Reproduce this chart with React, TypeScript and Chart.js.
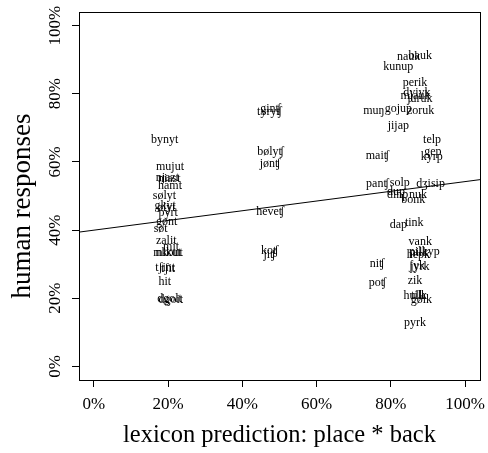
import React, { useEffect, useRef } from "react";
import { Chart, registerables } from "chart.js";

Chart.register(...registerables);

const FONT = "'Liberation Serif', 'DejaVu Serif', serif";

const words = [
  "bynyt", "mujut", "njazt", "niast", "hamt", "sølyt", "gkyt", "ølyt", "pyrt", "gønt", "søt",
  "zalit", "mit", "mikut", "nkout", "tʃint", "tʃit", "hit", "dgolt", "dgoit",
  "ginʧ", "tyryʧ", "bølyʧ", "jønʧ", "heveʧ", "koʧ", "jiʧ",
  "nauk", "bauk", "kunup", "perik", "dyiyk", "mjauk", "juruk", "muŋ", "gojup", "zoruk", "jijap",
  "telp", "gep", "kyrp", "maiʧ", "panʧ", "solp", "dʒisip", "dup", "dinp", "nuk", "bonk",
  "dap", "tink", "vank", "pilkyp", "hepk", "nilk", "ʃyk", "jyrk", "niʧ", "zik", "poʧ",
  "hulk", "tilk", "gølk", "pyrk",
];

const lexiconPrediction = [
  19.1, 20.5, 19.8, 20.3, 20.5, 19.0, 19.2, 19.5, 20.0, 19.6, 18.0,
  19.5, 20.8, 19.8, 20.3, 19.2, 20.0, 19.1, 20.4, 20.7,
  47.6, 47.3, 47.6, 47.5, 47.5, 47.4, 47.3,
  84.8, 87.9, 82.0, 86.5, 87.0, 86.6, 87.8, 75.4, 82.0, 88.0, 82.0,
  91.1, 91.3, 91.0, 76.4, 76.4, 82.4, 90.7, 81.4, 81.8, 87.3, 86.0,
  82.0, 86.3, 87.9, 89.0, 87.4, 87.6, 87.0, 87.8, 76.3, 86.5, 76.4,
  86.3, 87.6, 88.2, 86.5,
];

const humanResponses = [
  66.6, 58.7, 55.4, 55.0, 53.0, 50.0, 47.0, 46.6, 45.0, 42.3, 40.3,
  36.8, 35.2, 33.3, 33.3, 28.8, 28.6, 24.9, 19.8, 19.6,
  75.7, 74.6, 62.9, 59.5, 45.4, 34.0, 32.6,
  90.7, 91.0, 88.0, 83.1, 80.3, 79.3, 78.6, 74.9, 75.6, 74.9, 70.7,
  66.6, 63.0, 61.6, 61.7, 53.7, 54.0, 53.5, 51.3, 50.3, 50.4, 48.8,
  41.5, 42.1, 36.6, 33.6, 32.6, 33.2, 29.6, 29.2, 30.0, 25.2, 24.4,
  20.8, 20.6, 19.6, 12.9,
];

const fitX = [-4, 104];
const fitY = [39.4, 54.8];

const tickValues = [0, 20, 40, 60, 80, 100];

const xTitle = "lexicon prediction: place * back";
const yTitle = "human responses";

const wordPlugin = {
  id: "wordLabels",
  afterDatasetsDraw(chart: any) {
    const ctx = chart.ctx;
    const meta = chart.getDatasetMeta(1);
    ctx.save();
    ctx.font = `12px ${FONT}`;
    ctx.textAlign = "center";
    ctx.textBaseline = "middle";
    ctx.fillStyle = "#000";
    meta.data.forEach((pt: any, i: number) => {
      ctx.fillText(words[i], pt.x, pt.y);
    });
    ctx.restore();
  },
  afterDraw(chart: any) {
    const { left, right, top, bottom } = chart.chartArea;
    const ctx = chart.ctx;
    ctx.save();
    ctx.strokeStyle = "#000";
    ctx.lineWidth = 1;
    ctx.strokeRect(Math.round(left) + 0.5, Math.round(top) + 0.5, Math.round(right - left), Math.round(bottom - top));
    ctx.translate(23, (top + bottom) / 2 + 10);
    ctx.rotate(-Math.PI / 2);
    ctx.font = `27px ${FONT}`;
    ctx.textAlign = "center";
    ctx.textBaseline = "middle";
    ctx.fillStyle = "#000";
    ctx.fillText(yTitle, 0, 0);
    ctx.restore();
  },
};

export default function App() {
  const ref = useRef<HTMLCanvasElement | null>(null);
  useEffect(() => {
    document.body.style.margin = "0";
    const canvas = ref.current!;
    const chart = new Chart(canvas, {
      type: "scatter",
      data: {
        datasets: [
          {
            type: "line",
            data: fitX.map((x, i) => ({ x, y: fitY[i] })),
            borderColor: "#000",
            borderWidth: 1,
            pointRadius: 0,
            fill: false,
          } as any,
          {
            type: "scatter",
            data: lexiconPrediction.map((x, i) => ({ x, y: humanResponses[i] })),
            pointRadius: 0,
            pointHoverRadius: 0,
          },
        ],
      },
      options: {
        responsive: false,
        animation: false,
        events: [],
        layout: { padding: { top: 12, right: 8, left: 0, bottom: 0 } },
        plugins: { legend: { display: false }, tooltip: { enabled: false } },
        scales: {
          x: {
            type: "linear",
            min: -4,
            max: 104,
            afterFit: (s: any) => { s.height = 73; s.paddingLeft = 0; s.paddingRight = 0; },
            afterBuildTicks: (s: any) => { s.ticks = tickValues.map((v) => ({ value: v })); },
            border: { display: false },
            grid: { display: true, drawOnChartArea: false, drawTicks: true, tickLength: 7, color: "#000" },
            ticks: {
              color: "#000",
              font: { family: FONT, size: 17 },
              padding: 7,
              maxRotation: 0,
              callback: (v: any) => `${v}%`,
            },
            title: {
              display: true,
              text: xTitle,
              color: "#000",
              font: { family: FONT, size: 24.5 },
              padding: { top: 0, bottom: 3 },
            },
          },
          y: {
            type: "linear",
            min: -4,
            max: 104,
            afterFit: (s: any) => { s.width = 79; s.paddingTop = 0; s.paddingBottom = 0; },
            afterBuildTicks: (s: any) => { s.ticks = tickValues.map((v) => ({ value: v })); },
            border: { display: false },
            grid: { display: true, drawOnChartArea: false, drawTicks: true, tickLength: 7, color: "#000" },
            ticks: {
              color: "#000",
              font: { family: FONT, size: 17 },
              padding: -3,
              minRotation: 90,
              maxRotation: 90,
              crossAlign: "center",
              callback: (v: any) => `${v}%`,
            },
            title: { display: false },
          },
        },
      },
      plugins: [wordPlugin],
    });
    return () => chart.destroy();
  }, []);
  return <canvas ref={ref} width={488} height={453} style={{ display: "block" }} />;
}
